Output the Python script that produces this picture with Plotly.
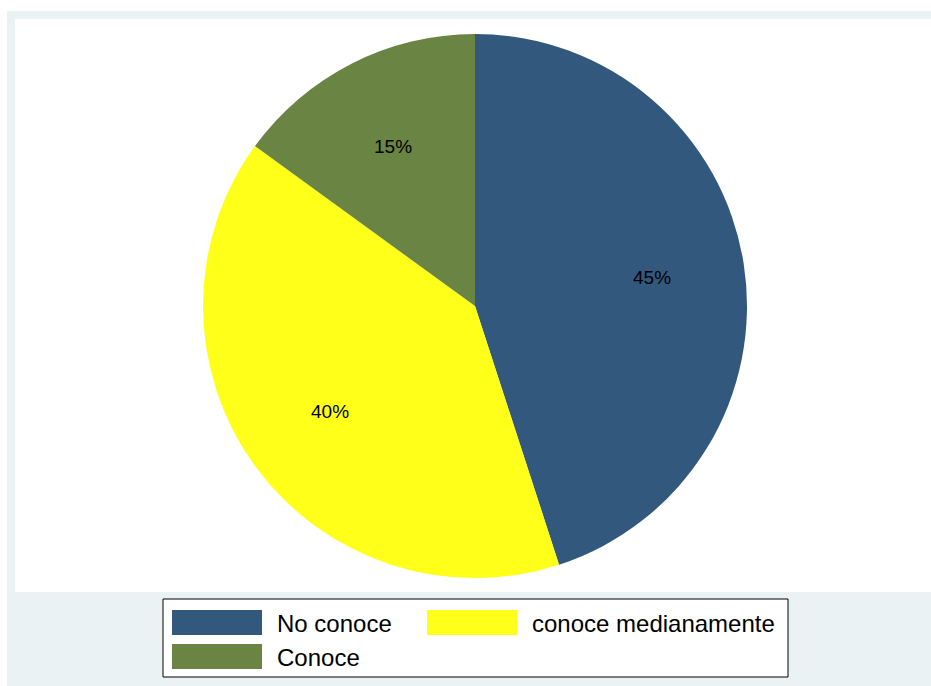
import math
import plotly.graph_objects as go

categories = ["No conoce", "conoce medianamente", "Conoce"]
values = [45, 40, 15]
colors = ["#32597D", "#FFFF1A", "#6A8443"]

W, H = 931, 686
cx, cy, R = 475, 306, 272  # pie centre / radius in pixels


def px(x):
    return x / W


def py(y):
    return 1 - y / H


fig = go.Figure()
fig.add_trace(go.Pie(
    labels=categories,
    values=values,
    marker=dict(colors=colors, line=dict(width=0)),
    sort=False,
    direction="clockwise",
    rotation=0,
    textinfo="none",
    hoverinfo="label+percent",
    showlegend=False,
    domain=dict(x=[px(cx - R), px(cx + R)], y=[py(cy + R), py(cy - R)]),
))

shapes = [
    dict(type="rect", xref="paper", yref="paper", x0=px(7), x1=1, y0=0, y1=py(11),
         fillcolor="#EAF2F3", line=dict(width=0), layer="below"),
    dict(type="rect", xref="paper", yref="paper", x0=px(15), x1=1, y0=py(592), y1=py(19),
         fillcolor="#FFFFFF", line=dict(width=0), layer="below"),
    dict(type="rect", xref="paper", yref="paper", x0=px(163), x1=px(788), y0=py(677), y1=py(599),
         fillcolor="#FFFFFF", line=dict(width=1, color="#000000"), layer="below"),
]

annotations = []
total = sum(values)
cum = 0
for v in values:
    theta = 2 * math.pi * (cum + v / 2) / total
    r = 0.66 * R
    x = cx + r * math.sin(theta)
    y = cy - r * math.cos(theta)
    annotations.append(dict(x=px(x), y=py(y), xref="paper", yref="paper",
                            xanchor="center", yanchor="middle",
                            text=f"{round(100 * v / total)}%", showarrow=False,
                            font=dict(size=19, color="#000000", family="Liberation Sans, Arial")))
    cum += v

for i, (cat, col) in enumerate(zip(categories, colors)):
    c, rrow = i % 2, i // 2
    sx0 = 172 + c * 255
    sy0 = 610 + rrow * 34
    shapes.append(dict(type="rect", xref="paper", yref="paper",
                       x0=px(sx0), x1=px(sx0 + 90), y0=py(sy0 + 25), y1=py(sy0),
                       fillcolor=col, line=dict(width=0)))
    annotations.append(dict(x=px(sx0 + 103), y=py(sy0 + 13), xref="paper", yref="paper",
                            text=cat, showarrow=False, xanchor="left", yanchor="middle",
                            font=dict(size=24, color="#000000", family="Liberation Sans, Arial")))

fig.update_layout(
    width=W, height=H,
    margin=dict(l=0, r=0, t=0, b=0),
    paper_bgcolor="#FFFFFF",
    plot_bgcolor="#FFFFFF",
    shapes=shapes,
    annotations=annotations,
)

fig.write_html("out.html",
               config={"displayModeBar": False},
               post_script="document.body.style.margin='0';document.body.style.overflow='hidden';")
